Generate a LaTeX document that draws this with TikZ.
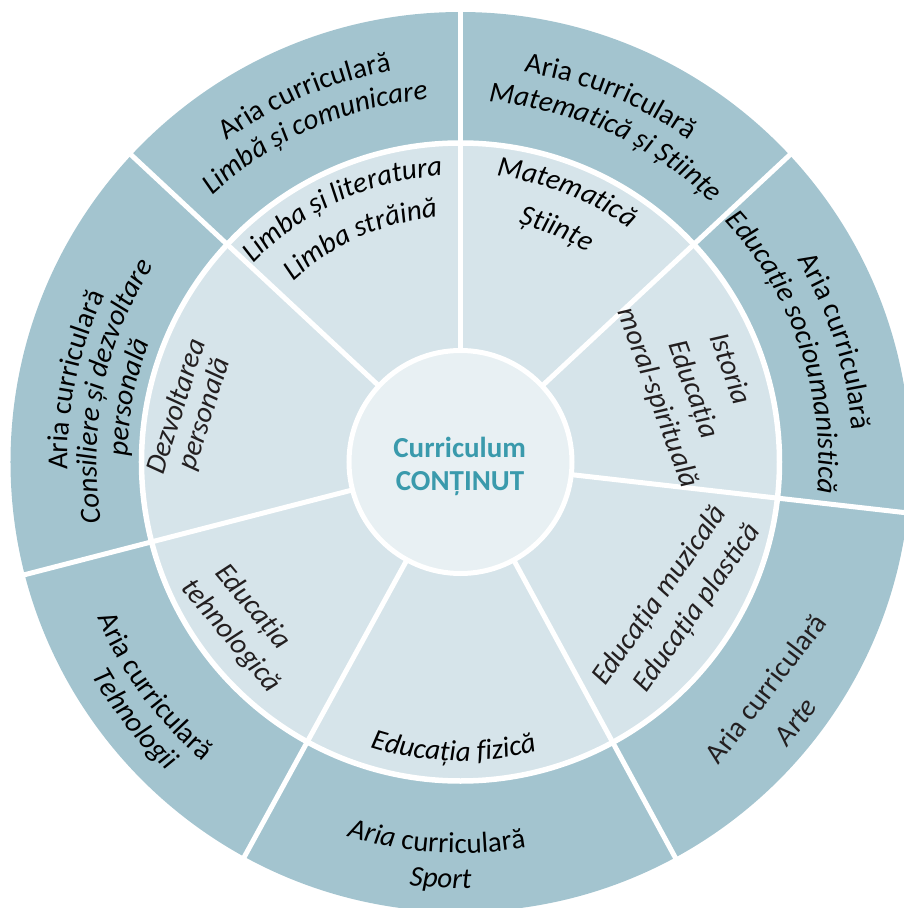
\documentclass[tikz,border=0pt]{standalone}
\usepackage{fontspec}
\setmainfont{Carlito}
\usetikzlibrary{decorations.text}
\definecolor{outerc}{HTML}{A3C4CF}
\definecolor{innerc}{HTML}{D6E4EA}
\definecolor{centerc}{HTML}{E8F0F3}
\definecolor{titlec}{HTML}{3A9AAC}
\definecolor{txtc}{HTML}{231F20}
\newcommand\upf{\fontsize{29}{34}\selectfont\upshape}
\newcommand\itf{\fontsize{29}{34}\selectfont\itshape}
% text on a clockwise arc (letters point away from the centre)
\newcommand\cwtext[4]{\path[decorate,color=txtc,decoration={text along path,text align=center,text={|#3|#4}}] ({#2+70}:#1) arc[start angle={#2+70},end angle={#2-70},radius=#1];}
% text on a counter-clockwise arc (letters point towards the centre)
\newcommand\ccwtext[4]{\path[decorate,color=txtc,decoration={text along path,text align=center,text={|#3|#4}}] ({#2-70}:#1) arc[start angle={#2-70},end angle={#2+70},radius=#1];}
\begin{document}
\begin{tikzpicture}[x=1pt,y=1pt,
  lbl/.style={inner sep=0pt,text=txtc,font=\itf},
  lblup/.style={inner sep=0pt,text=txtc,font=\upf},
  divider/.style={white,line width=5pt},
  ringgap/.style={white,line width=5.5pt},
  titletext/.style={anchor=base,text=titlec,font=\fontsize{29}{33}\selectfont\bfseries}]
\useasboundingbox (-460.5,-446) rectangle (443.5,462);
\clip (-460.5,-446) rectangle (443.5,462);
% rings
\fill[outerc] (0,0) circle[radius=450];
\fill[innerc] (0,0) circle[radius=319];
\draw[ringgap] (0,0) circle[radius=319];
\foreach \a in {90,43,-6.5,-61.5,-118.7,194.5,137}
  \draw[divider] (\a:100) -- (\a:470);
% centre
\node[circle,fill=centerc,draw=white,line width=5pt,minimum size=223pt,inner sep=0pt] (hub) at (0,0) {};
\node[titletext] (title1) at (-0.8,5) {Curriculum};
\node[titletext] (title2) at (-0.5,-28) {CONȚINUT};
% outer ring labels
\cwtext{397}{113}{\upf}{Aria curriculară}
\cwtext{364}{114}{\itf}{Limbă și comunicare}
\cwtext{395}{67.7}{\upf}{Aria curriculară}
\cwtext{361}{65.7}{\itf}{Matematică și Științe}
\cwtext{393}{17.8}{\upf}{Aria curriculară}
\cwtext{358}{18.7}{\itf}{Educație socioumanistică}
\cwtext{393}{168}{\upf}{Aria curriculară}
\cwtext{364}{168.5}{\itf}{Consiliere și dezvoltare}
\cwtext{333}{169}{\itf}{personală}
\ccwtext{395}{216.3}{\upf}{Aria curriculară}
\ccwtext{426}{218.3}{\itf}{Tehnologii}
\ccwtext{391}{266.4}{\itf}{Aria |\upf|curriculară}
\ccwtext{426}{267.3}{\itf}{Sport}
\node[lblup,rotate=52.5] (ariaarte) at (305.3,-226.3) {Aria curriculară};
\node[lbl,rotate=52.5] (arte) at (335.3,-259.7) {Arte};
% inner ring labels
\cwtext{287}{114.9}{\itf}{Limba și literatura}
\cwtext{246}{114}{\itf}{Limba străină}
\cwtext{288}{68.5}{\itf}{Matematică}
\cwtext{245}{67.6}{\itf}{Științe}
\ccwtext{299}{268.6}{\itf}{Educația fizică}
\node[lbl,rotate=-70] (istoria) at (271,93.5) {Istoria};
\node[lbl,rotate=-70] (educmoral) at (232,72) {Educația};
\node[lbl,rotate=-70] (moral) at (197,64) {moral-spirituală};
\node[lbl,rotate=55] (muzic) at (199.8,-133.7) {Educația muzicală};
\node[lbl,rotate=55] (plast) at (237.3,-146.2) {Educația plastică};
\node[lbl,rotate=72.5] (dezv) at (-285.5,56.2) {Dezvoltarea};
\node[lbl,rotate=72.5] (pers) at (-255.5,47.8) {personală};
\node[lbl,rotate=-50] (edtehn) at (-208,-145.3) {Educația};
\node[lbl,rotate=-50] (tehn) at (-229.7,-174.5) {tehnologică};
\end{tikzpicture}
\end{document}
